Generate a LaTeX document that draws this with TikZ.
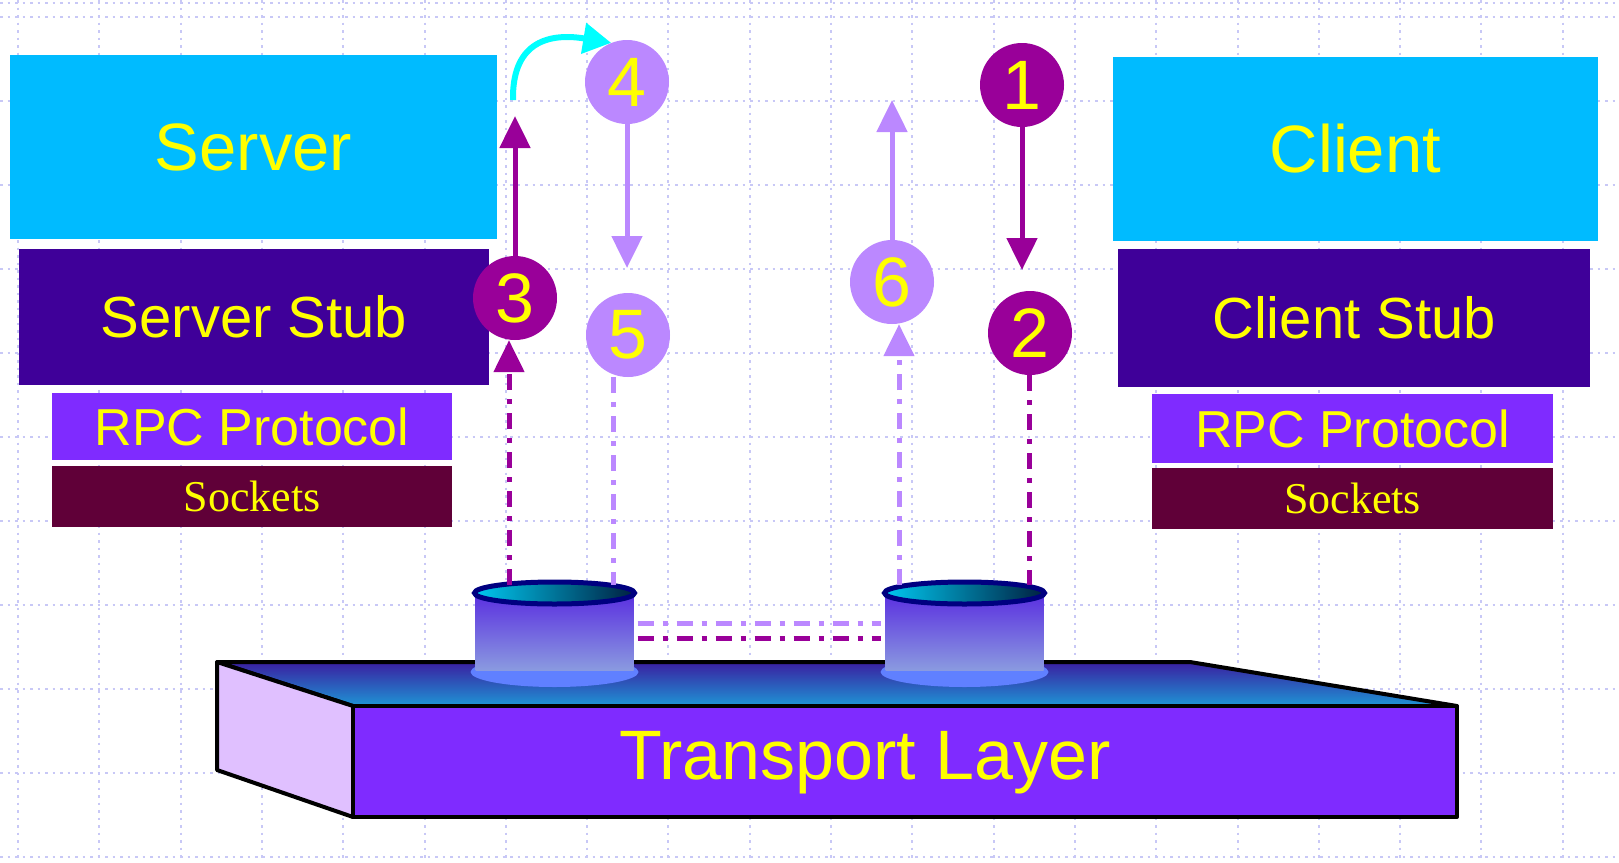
\documentclass[tikz,border=0pt]{standalone}
\usepackage{fontspec}
\setmainfont{Liberation Sans}
\newfontfamily\sockfont{Liberation Serif}
\usetikzlibrary{arrows.meta,calc}

\definecolor{gridcol}{HTML}{C8C8F6}
\definecolor{srvblue}{HTML}{00BBFF}
\definecolor{stubcol}{HTML}{3F0099}
\definecolor{rpccol}{HTML}{7F2BFF}
\definecolor{sockcol}{HTML}{600038}
\definecolor{txtyel}{HTML}{FFFF00}
\definecolor{darkmag}{HTML}{990099}
\definecolor{lavend}{HTML}{BB88FF}
\definecolor{arrcyan}{HTML}{00FFFF}
\definecolor{sidecol}{HTML}{E0C0FF}
\definecolor{topback}{HTML}{3A1FA0}
\definecolor{topfront}{HTML}{1E95D5}
\definecolor{basecol}{HTML}{6080FF}
\definecolor{bodytop}{HTML}{5A2EE0}
\definecolor{bodybot}{HTML}{8A9AE0}
\definecolor{rimhi}{HTML}{00C8F0}
\definecolor{rimdark}{HTML}{002040}
\definecolor{rimnavy}{HTML}{000080}

% a drum standing on the transport layer, centred at x = #1
\newcommand\drumat[1]{%
  \fill[basecol] (#1,672) ellipse [x radius=84pt, y radius=15pt];
  \shade[top color=bodytop, bottom color=bodybot]
    (#1-79,593) -- (#1-79,670) -- (#1+79,670) -- (#1+79,593) -- cycle;
  \shadedraw[left color=rimhi, right color=rimdark, draw=rimnavy, line width=5pt]
    (#1,593) ellipse [x radius=80pt, y radius=11pt];
}

\begin{document}
\begin{tikzpicture}[x=1pt,y=-1pt,
  gridline/.style={gridcol, line width=2pt, dash pattern=on 2.5pt off 5pt},
  box/.style={inner sep=0pt, text=txtyel},
  numdot/.style={circle, minimum size=84pt, inner sep=0pt, text=txtyel,
    font=\fontsize{70}{70}\selectfont},
  solidarr/.style={line width=5pt, -{Triangle[width=30pt,length=32pt]}},
  dashdot/.style={line width=5pt, dash pattern=on 16pt off 9pt on 5pt off 9pt},
  dasharr/.style={dashdot, -{Triangle[width=30pt,length=32pt]}},
  edge3d/.style={draw=black, line width=4pt, line join=round}]

\useasboundingbox (0,0) rectangle (1619,862);
\fill[white] (0,0) rectangle (1619,862);

% background grid
\draw[gridline] (0,3) -- (1619,3);
\foreach \i in {0,...,19}
  \draw[gridline] ({18+81.3*\i},0) -- ({18+81.3*\i},862);
\foreach \j in {0,...,10}
  \draw[gridline] (0,{17+84*\j}) -- (1619,{17+84*\j});

% transport layer slab
\shadedraw[top color=topback, bottom color=topfront, edge3d]
  (217,662) -- (1190,662) -- (1457,706) -- (353,706) -- cycle;
\filldraw[fill=sidecol, edge3d]
  (217,662) -- (353,706) -- (353,817) -- (217,770) -- cycle;
\filldraw[fill=rpccol, edge3d] (353,706) rectangle (1457,817);
\node[box, font=\fontsize{70}{70}\selectfont] (tl) at (865,763) {Transport Layer};

% drums
\drumat{554.5}
\drumat{964.5}
\node[minimum width=166pt, minimum height=107pt, inner sep=0pt] (cylL) at (554.5,633.5) {};
\node[minimum width=166pt, minimum height=107pt, inner sep=0pt] (cylR) at (964.5,633.5) {};

% server side stack
\node[box, fill=srvblue, minimum width=487pt, minimum height=184pt,
  font=\fontsize{67}{67}\selectfont] (server) at (253.5,147) {Server};
\node[box, fill=stubcol, minimum width=470pt, minimum height=136pt,
  font=\fontsize{58}{58}\selectfont] (sstub) at (254,317) {Server Stub};
\node[box, fill=rpccol, minimum width=400pt, minimum height=67pt,
  font=\fontsize{52}{52}\selectfont] (srpc) at (252,426.5) {RPC Protocol};
\node[box, fill=sockcol, minimum width=400pt, minimum height=61pt,
  font=\sockfont\fontsize{44}{44}\selectfont] (ssock) at (252,496.5) {Sockets};

% client side stack
\node[box, fill=srvblue, minimum width=485pt, minimum height=184pt,
  font=\fontsize{67}{67}\selectfont] (client) at (1355.5,149) {Client};
\node[box, fill=stubcol, minimum width=472pt, minimum height=138pt,
  font=\fontsize{58}{58}\selectfont] (cstub) at (1354,318) {Client Stub};
\node[box, fill=rpccol, minimum width=401pt, minimum height=69pt,
  font=\fontsize{52}{52}\selectfont] (crpc) at (1352.5,428.5) {RPC Protocol};
\node[box, fill=sockcol, minimum width=401pt, minimum height=61pt,
  font=\sockfont\fontsize{44}{44}\selectfont] (csock) at (1352.5,498.5) {Sockets};

% numbered steps
\node[numdot, fill=darkmag] (c1) at (1022,85) {1};
\node[numdot, fill=darkmag] (c2) at (1030,333) {2};
\node[numdot, fill=darkmag] (c3) at (515,298) {3};
\node[numdot, fill=lavend]  (c4) at (627,82) {4};
\node[numdot, fill=lavend]  (c5) at (628,335) {5};
\node[numdot, fill=lavend]  (c6) at (892,282) {6};

% free ends of the step arrows
\coordinate (t1) at (1022,270);
\coordinate (t3) at (515,116);
\coordinate (t4) at (627,268);
\coordinate (t6) at (892,100);
\coordinate (cstart) at (513,100);
\coordinate (d3) at (509,585);
\coordinate (d5) at (613,585);
\coordinate (d6) at (899,585);
\coordinate (d2) at (1029,585);

% solid step arrows
\draw[solidarr, darkmag] (c1.south) -- (t1);
\draw[solidarr, darkmag] (c3.north) -- (t3);
\draw[solidarr, lavend] (c4.south) -- (t4);
\draw[solidarr, lavend] (c6.north) -- (t6);
\draw[arrcyan, line width=6pt, -{Triangle[width=30pt,length=28pt]}]
  (cstart) .. controls (512,45) and (545,32) .. (c4.112);

% dash-dotted paths through the transport layer
\draw[dasharr, darkmag] (d3) -- (d3 |- c3.south);
\draw[dashdot, lavend] (d5 |- c5.south) -- (d5);
\draw[dasharr, lavend] (d6) -- (d6 |- c6.south);
\draw[dashdot, darkmag] (d2 |- c2.south) -- (d2);
\draw[dashdot, lavend] ($(cylL.east)+(0,-10.5)$) -- ($(cylR.west)+(0,-10.5)$);
\draw[dashdot, darkmag] ($(cylL.east)+(0,4.5)$) -- ($(cylR.west)+(0,4.5)$);
\end{tikzpicture}
\end{document}
